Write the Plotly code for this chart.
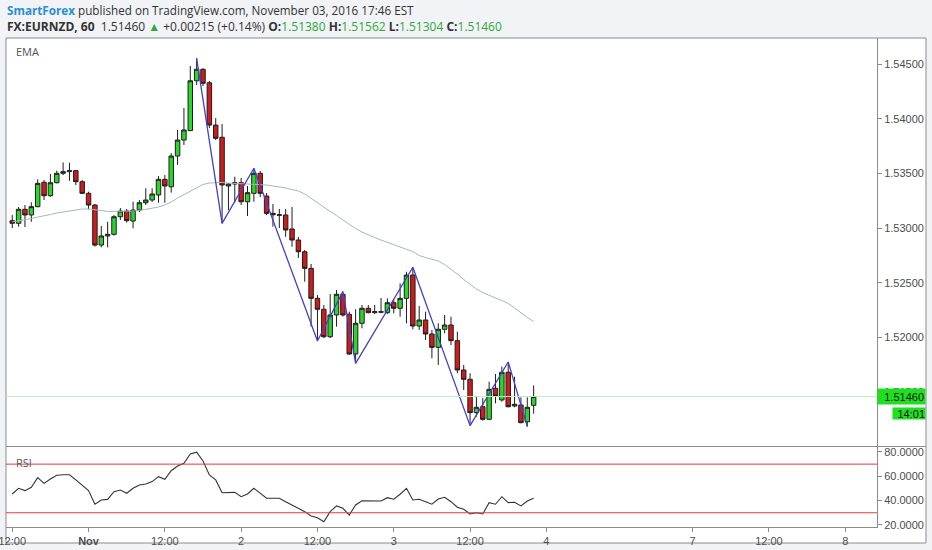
"""
EURNZD 60 min chart, TradingView style: candles, EMA, zigzag and RSI pane
"""

import pandas as pd
import plotly.graph_objects as go
from plotly.subplots import make_subplots

START = "2016-10-31 12:00"

OPEN = [1.53068, 1.53044, 1.53172, 1.53120, 1.53196, 1.53419, 1.53296, 1.53415, 1.53501, 1.53516,
        1.53525, 1.53424, 1.53318, 1.53211, 1.52845, 1.52928, 1.52943, 1.53104, 1.53156, 1.53065,
        1.53165, 1.53232, 1.53257, 1.53303, 1.53446, 1.53378, 1.53659, 1.53805, 1.53891, 1.54347,
        1.54452, 1.54329, 1.53942, 1.53830, 1.53385, 1.53403, 1.53415, 1.53241, 1.53318, 1.53501,
        1.53293, 1.53135, 1.53122, 1.53120, 1.52992, 1.52891, 1.52784, 1.52632, 1.52358, 1.52258,
        1.52007, 1.52206, 1.52395, 1.52212, 1.51849, 1.52130, 1.52267, 1.52227, 1.52236, 1.52227,
        1.52318, 1.52267, 1.52358, 1.52571, 1.52105, 1.52160, 1.52032, 1.51910, 1.52075, 1.52114,
        1.51971, 1.51703, 1.51618, 1.51313, 1.51367, 1.51252, 1.51536, 1.51429, 1.51682, 1.51374,
        1.51383, 1.51230, 1.51380]
HIGH = [1.53120, 1.53193, 1.53211, 1.53236, 1.53446, 1.53440, 1.53495, 1.53525, 1.53601, 1.53598,
        1.53531, 1.53440, 1.53333, 1.53220, 1.53019, 1.53058, 1.53120, 1.53184, 1.53175, 1.53241,
        1.53257, 1.53364, 1.53364, 1.53476, 1.53485, 1.53686, 1.53897, 1.54098, 1.54482, 1.54552,
        1.54461, 1.54345, 1.54006, 1.53952, 1.53412, 1.53470, 1.53458, 1.53385, 1.53547, 1.53522,
        1.53321, 1.53220, 1.53175, 1.53175, 1.53193, 1.52919, 1.52800, 1.52672, 1.52388, 1.52297,
        1.52398, 1.52434, 1.52419, 1.52236, 1.52258, 1.52297, 1.52297, 1.52297, 1.52361, 1.52358,
        1.52349, 1.52495, 1.52601, 1.52642, 1.52288, 1.52236, 1.52069, 1.52130, 1.52206, 1.52190,
        1.52053, 1.51749, 1.51673, 1.51465, 1.51447, 1.51596, 1.51666, 1.51733, 1.51776, 1.51642,
        1.51453, 1.51453, 1.51562]
LOW = [1.53001, 1.53013, 1.53010, 1.53058, 1.53190, 1.53257, 1.53287, 1.53409, 1.53485, 1.53433,
       1.53394, 1.53312, 1.53172, 1.52830, 1.52824, 1.52824, 1.52932, 1.53074, 1.53050, 1.52998,
       1.53147, 1.53211, 1.53239, 1.53232, 1.53232, 1.53324, 1.53577, 1.53760, 1.53888, 1.54308,
       1.54299, 1.53915, 1.53805, 1.53044, 1.53165, 1.53232, 1.53211, 1.53111, 1.53241, 1.53284,
       1.53120, 1.53013, 1.53001, 1.52921, 1.52830, 1.52727, 1.52510, 1.52099, 1.51968, 1.51995,
       1.51995, 1.52099, 1.52190, 1.51840, 1.51764, 1.52084, 1.52221, 1.52215, 1.52221, 1.52215,
       1.52221, 1.52190, 1.52130, 1.52075, 1.52069, 1.51977, 1.51810, 1.51749, 1.52038, 1.51931,
       1.51673, 1.51520, 1.51194, 1.51276, 1.51239, 1.51246, 1.51398, 1.51413, 1.51362, 1.51362,
       1.51216, 1.51185, 1.51304]
CLOSE = [1.53044, 1.53172, 1.53120, 1.53196, 1.53409, 1.53296, 1.53415, 1.53501, 1.53516, 1.53525,
         1.53424, 1.53318, 1.53211, 1.52845, 1.52928, 1.52943, 1.53104, 1.53156, 1.53068, 1.53165,
         1.53232, 1.53257, 1.53312, 1.53446, 1.53385, 1.53659, 1.53805, 1.53897, 1.54347, 1.54452,
         1.54324, 1.53942, 1.53821, 1.53394, 1.53403, 1.53415, 1.53241, 1.53324, 1.53501, 1.53318,
         1.53135, 1.53122, 1.53118, 1.52983, 1.52891, 1.52784, 1.52632, 1.52358, 1.52258, 1.52007,
         1.52206, 1.52395, 1.52206, 1.51849, 1.52130, 1.52267, 1.52227, 1.52236, 1.52232, 1.52318,
         1.52267, 1.52358, 1.52571, 1.52105, 1.52160, 1.52032, 1.51910, 1.52075, 1.52114, 1.51971,
         1.51703, 1.51618, 1.51313, 1.51362, 1.51252, 1.51526, 1.51465, 1.51682, 1.51367, 1.51389,
         1.51221, 1.51362, 1.51460]

EMA = [1.53056, 1.53065, 1.53074, 1.53088, 1.53101, 1.53111, 1.53124, 1.53138, 1.53147, 1.53156,
       1.53165, 1.53175, 1.53175, 1.53170, 1.53161, 1.53152, 1.53152, 1.53152, 1.53152, 1.53156,
       1.53161, 1.53170, 1.53179, 1.53193, 1.53211, 1.53239, 1.53275, 1.53307, 1.53339, 1.53371,
       1.53399, 1.53412, 1.53417, 1.53417, 1.53412, 1.53409, 1.53408, 1.53405, 1.53403, 1.53399,
       1.53394, 1.53385, 1.53378, 1.53367, 1.53353, 1.53339, 1.53312, 1.53271, 1.53229, 1.53188,
       1.53152, 1.53115, 1.53074, 1.53033, 1.52996, 1.52964, 1.52937, 1.52914, 1.52891, 1.52868,
       1.52845, 1.52824, 1.52806, 1.52786, 1.52749, 1.52731, 1.52718, 1.52699, 1.52667, 1.52626,
       1.52580, 1.52530, 1.52484, 1.52443, 1.52411, 1.52384, 1.52361, 1.52338, 1.52311, 1.52270,
       1.52224, 1.52183, 1.52146]

RSI = [45.4, 50.1, 48.2, 51.0, 58.9, 54.2, 57.8, 60.8, 61.3, 61.3,
       57.0, 52.8, 48.2, 37.0, 40.5, 41.0, 47.3, 48.7, 46.0, 50.1,
       52.8, 53.7, 55.6, 59.7, 57.5, 64.6, 68.5, 70.7, 78.4, 79.8,
       72.6, 61.1, 57.0, 46.5, 46.8, 46.8, 43.2, 45.4, 50.1, 46.0,
       41.9, 41.9, 41.9, 39.1, 36.4, 33.7, 30.9, 27.3, 25.9, 22.6,
       30.9, 35.6, 33.7, 28.1, 36.4, 39.9, 39.7, 39.7, 39.7, 42.4,
       41.1, 45.2, 50.1, 40.5, 41.1, 39.1, 37.0, 41.3, 42.7, 39.1,
       34.5, 32.8, 29.0, 30.0, 29.0, 38.3, 37.0, 43.2, 38.3, 38.6,
       35.6, 39.7, 41.9]
RSI_LEVELS = [70, 30]

# zigzag pivots: bar number and pivot price
ZIGZAG_BARS = [29, 33, 38, 48, 52, 54, 63, 72, 78, 81]
ZIGZAG_PRICES = [1.54552, 1.53044, 1.53547, 1.51968, 1.52419, 1.51764, 1.52642, 1.51194,
                 1.51776, 1.51185]

LAST_PRICE = 1.51460
COUNTDOWN = "14:01"

TICK_DATES = ["2016-10-31 12:00", "2016-11-01 00:00", "2016-11-01 12:00", "2016-11-02 00:00",
              "2016-11-02 12:00", "2016-11-03 00:00", "2016-11-03 12:00", "2016-11-04 00:00",
              "2016-11-07 00:00", "2016-11-07 12:00", "2016-11-08 00:00"]
TICK_LABELS = ["12:00", "<b>Nov</b>", "12:00", "2", "12:00", "3", "12:00", "4", "7", "12:00", "8"]

GREEN = "#2fa83a"
FRAME = "#8c8c8c"
TICK_FONT = dict(family="Liberation Sans, Arial", size=11, color="#4d4d4d")


def main():
    times = pd.date_range(START, periods=len(CLOSE), freq="h")

    fig = make_subplots(rows=2, cols=1, shared_xaxes=True)

    fig.add_trace(
        go.Scatter(x=times, y=EMA, mode="lines", line=dict(color="#a5b7bb", width=1),
                   hoverinfo="skip"),
        row=1, col=1,
    )
    fig.add_trace(
        go.Candlestick(
            x=times, open=OPEN, high=HIGH, low=LOW, close=CLOSE,
            increasing=dict(fillcolor="#2ad62a", line=dict(color="#1e1e1e", width=1)),
            decreasing=dict(fillcolor="#cf1b1b", line=dict(color="#1e1e1e", width=1)),
            whiskerwidth=0,
        ),
        row=1, col=1,
    )
    fig.add_trace(
        go.Scatter(x=[times[i] for i in ZIGZAG_BARS], y=ZIGZAG_PRICES, mode="lines",
                   line=dict(color="#4040d8", width=1.3)),
        row=1, col=1,
    )
    fig.add_trace(
        go.Scatter(x=times, y=RSI, mode="lines", line=dict(color="#333333", width=1.1)),
        row=2, col=1,
    )

    fig.add_hline(y=LAST_PRICE, line=dict(color="#bdf0bd", width=1), row=1, col=1)
    for level in RSI_LEVELS:
        fig.add_shape(type="line", xref="x2 domain", yref="y2", x0=0, x1=1, y0=level,
                      y1=level, line=dict(color="#e8393f", width=1))

    # chart frame and pane separator (plot area is 871 x 489 px)
    right_edge = 920 / 871
    fig.add_shape(type="rect", xref="paper", yref="paper", x0=0, x1=right_edge,
                  y0=-16 / 489, y1=1, fillcolor="white", line=dict(color=FRAME, width=1),
                  layer="below")
    fig.add_shape(type="line", xref="paper", yref="paper", x0=0, x1=right_edge,
                  y0=80.5 / 489, y1=80.5 / 489, line=dict(color=FRAME, width=1))

    rangebreaks = [dict(values=["2016-11-04 17:00"], dvalue=49 * 3600 * 1000)]
    xrange = ["2016-10-31 11:01", "2016-11-08 05:00"]
    fig.update_xaxes(range=xrange, rangebreaks=rangebreaks, showgrid=False,
                     rangeslider_visible=False, zeroline=False, automargin=False)
    fig.update_xaxes(showticklabels=False, ticks="", row=1, col=1)
    fig.update_xaxes(tickvals=TICK_DATES, ticktext=TICK_LABELS, ticks="outside", ticklen=4,
                     tickcolor=FRAME, showline=True, linecolor=FRAME, tickfont=TICK_FONT,
                     ticklabeloverflow="allow", row=2, col=1)

    fig.update_yaxes(side="right", showgrid=False, zeroline=False, showline=True,
                     linecolor=FRAME, ticks="outside", ticklen=4, tickcolor=FRAME,
                     tickfont=TICK_FONT, automargin=False)
    fig.update_yaxes(range=[1.51008, 1.54738], dtick=0.005, tickformat=".5f",
                     domain=[81 / 489, 1], row=1, col=1)
    fig.update_yaxes(range=[18.27, 84.1], tickvals=[20, 40, 60, 80], tickformat=".4f",
                     domain=[0, 80 / 489], row=2, col=1)

    header1 = ("<span style='color:#2a8fd2'><b>SmartForex</b></span>"
               " published on TradingView.com, November 03, 2016 17:46 EST")
    header2 = (f"<b>FX:EURNZD, 60</b>  1.51460 <span style='color:{GREEN}'>▲</span>"
               f" +0.00215 (+0.14%) <b>O:</b><span style='color:{GREEN}'>1.51380</span>"
               f" <b>H:</b><span style='color:{GREEN}'>1.51562</span>"
               f" <b>L:</b><span style='color:{GREEN}'>1.51304</span>"
               f" <b>C:</b><span style='color:{GREEN}'>1.51460</span>")
    header_font = dict(family="Open Sans", color="#333333")
    fig.add_annotation(text=header1, xref="paper", yref="paper", x=-1 / 871, y=517 / 489,
                       xanchor="left", yanchor="middle", showarrow=False,
                       font=dict(size=11.7, **header_font))
    fig.add_annotation(text=header2, xref="paper", yref="paper", x=-1 / 871, y=500 / 489,
                       xanchor="left", yanchor="middle", showarrow=False,
                       font=dict(size=12, **header_font))

    label_font = dict(family="Open Sans", size=11, color="#555555")
    fig.add_annotation(text="EMA", xref="paper", yref="paper", x=8 / 871, y=475 / 489,
                       xanchor="left", yanchor="middle", showarrow=False, font=label_font)
    fig.add_annotation(text="RSI", xref="paper", yref="paper", x=8 / 871, y=65 / 489,
                       xanchor="left", yanchor="middle", showarrow=False, font=label_font)

    # last price marker and bar countdown on the price scale
    fig.add_annotation(text="1.51460", xref="paper", yref="y", x=1, y=LAST_PRICE,
                       xanchor="left", yanchor="middle", showarrow=False, width=45, height=13,
                       align="right", bgcolor="#1fe01f", borderpad=1,
                       font=dict(family="Liberation Sans, Arial", size=11, color="#111111"))
    fig.add_annotation(text=COUNTDOWN, xref="paper", yref="y", x=right_edge, y=LAST_PRICE,
                       yshift=-17, xanchor="right", yanchor="middle", showarrow=False,
                       width=32, height=11, align="right", bgcolor="#1fe01f", borderpad=0,
                       font=dict(family="Liberation Sans, Arial", size=11, color="#111111"))

    fig.update_layout(
        width=932, height=550,
        margin=dict(l=6, r=55, t=38, b=23),
        paper_bgcolor="#f1f3f6", plot_bgcolor="white",
        showlegend=False,
        hovermode=False,
        boxgap=0.3, boxgroupgap=0,
    )
    # the page body keeps its default 8px margin otherwise
    fig.write_html("out.html", config={"displayModeBar": False},
                   post_script="document.body.style.margin='0';"
                               "document.body.style.overflow='hidden';")


if __name__ == "__main__":
    main()
